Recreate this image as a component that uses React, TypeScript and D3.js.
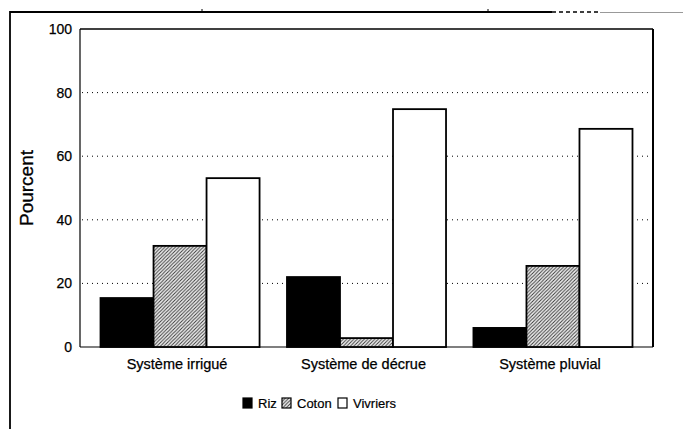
import React from "react";
import * as d3 from "d3";

const categories = ["Système irrigué", "Système de décrue", "Système pluvial"];
const seriesNames = ["Riz", "Coton", "Vivriers"];
const riz = [15.4, 22, 6];
const coton = [31.8, 2.8, 25.5];
const vivriers = [53.1, 74.8, 68.6];
const yTicks = [0, 20, 40, 60, 80, 100];
const gridTicks = [20, 40, 60, 80];
const yLabel = "Pourcent";

const W = 683;
const H = 429;
const plotL = 80;
const plotR = 653;
const plotT = 29;
const plotB = 347;

const FONT = "'Liberation Sans', Arial, sans-serif";

export default function App() {
  const x0 = d3
    .scaleBand<string>()
    .domain(categories)
    .range([plotL, plotR])
    .paddingInner(0.147)
    .paddingOuter(0.11);
  const x1 = d3.scaleBand<string>().domain(seriesNames).range([0, x0.bandwidth()]);
  const y = d3.scaleLinear().domain([0, 100]).range([plotB, plotT]);

  const seriesData = [riz, coton, vivriers];
  const fills = ["#000", "url(#hatch)", "#fff"];

  const legendX = [243, 282, 338];

  return (
    <svg
      width={W}
      height={H}
      style={{ position: "absolute", left: 0, top: 0, background: "#fff" }}
      fontFamily={FONT}
    >
      <defs>
        <pattern id="hatch" patternUnits="userSpaceOnUse" width={3.5} height={3.5}>
          <rect width={3.5} height={3.5} fill="#f2f2f2" />
          <path
            d="M-1,1 l2,-2 M0,3.5 l3.5,-3.5 M2.5,4.5 l2,-2"
            stroke="#3a3a3a"
            strokeWidth={1}
          />
        </pattern>
      </defs>

      {/* outer frame */}
      <line x1={10} y1={12} x2={552} y2={12} stroke="#000" strokeWidth={2.2} />
      <line x1={552} y1={12} x2={600} y2={12} stroke="#000" strokeWidth={1.5} strokeDasharray="4,3" />
      <line x1={600} y1={12.5} x2={683} y2={12.5} stroke="#999" strokeWidth={1} />
      <line x1={10} y1={11} x2={10} y2={429} stroke="#000" strokeWidth={1.8} />
      <line x1={202} y1={9} x2={202} y2={12} stroke="#000" strokeWidth={1} />
      <line x1={488} y1={9} x2={488} y2={12} stroke="#000" strokeWidth={1} />

      {/* gridlines */}
      {gridTicks.map((t) => (
        <line
          key={t}
          x1={plotL + 2}
          x2={plotR}
          y1={y(t)}
          y2={y(t)}
          stroke="#000"
          strokeWidth={1}
          strokeDasharray="1,4"
        />
      ))}

      {/* plot frame */}
      <line x1={plotL} y1={plotT} x2={plotR} y2={plotT} stroke="#000" strokeWidth={1.3} />
      <line x1={plotL} y1={plotT} x2={plotL} y2={plotB} stroke="#000" strokeWidth={1.2} />
      <line x1={plotR} y1={plotT} x2={plotR} y2={plotB} stroke="#000" strokeWidth={2} />
      <line x1={plotL} y1={plotB} x2={plotR} y2={plotB} stroke="#000" strokeWidth={1.2} />

      {/* bars */}
      {categories.map((c, i) => (
        <g key={c} transform={`translate(${x0(c)},0)`}>
          {seriesNames.map((s, j) => {
            const v = seriesData[j][i];
            return (
              <rect
                key={s}
                x={x1(s)}
                y={y(v)}
                width={x1.bandwidth()}
                height={y(0) - y(v)}
                fill={fills[j]}
                stroke="#000"
                strokeWidth={1.8}
              />
            );
          })}
        </g>
      ))}

      {/* y tick labels */}
      {yTicks.map((t) => (
        <text
          key={t}
          x={72}
          y={y(t)}
          dy="0.36em"
          textAnchor="end"
          fontSize={14}
          fill="#000"
          stroke="#000"
          strokeWidth={0.25}
        >
          {t}
        </text>
      ))}

      {/* y label */}
      <text
        transform={`translate(33,${(plotT + plotB) / 2}) rotate(-90)`}
        textAnchor="middle"
        fontSize={19}
        fill="#000"
        stroke="#000"
        strokeWidth={0.3}
      >
        {yLabel}
      </text>

      {/* x labels */}
      {categories.map((c) => (
        <text
          key={c}
          x={(x0(c) as number) + x0.bandwidth() / 2 - 3}
          y={369}
          textAnchor="middle"
          fontSize={14.5}
          fill="#000"
          stroke="#000"
          strokeWidth={0.25}
        >
          {c}
        </text>
      ))}

      {/* legend */}
      {seriesNames.map((s, j) => (
        <g key={s} transform={`translate(${legendX[j]},398)`}>
          <rect x={0} y={0} width={9} height={10} fill={fills[j]} stroke="#000" strokeWidth={1.2} />
          <text x={15} y={10} fontSize={13} fill="#000" stroke="#000" strokeWidth={0.2}>
            {s}
          </text>
        </g>
      ))}
    </svg>
  );
}
